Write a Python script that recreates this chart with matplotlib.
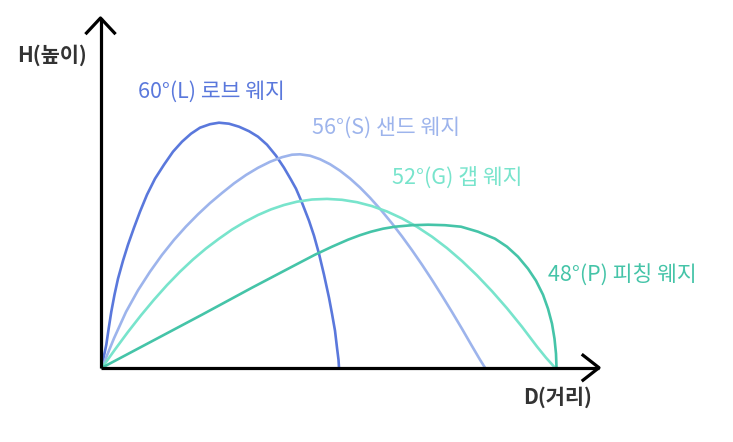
import matplotlib
matplotlib.use("Agg")
import matplotlib.pyplot as plt

plt.rcParams['font.family'] = ['Noto Sans CJK KR', 'DejaVu Sans']

# 궤적 데이터 (D: 거리, H: 높이) - 그림에서 읽은 값
d_60 = [0, 2, 4.3, 6.5, 9.3, 12.5, 16, 21, 26, 32, 38, 45, 53, 62, 71, 80, 89, 98, 108, 117,
        127, 137, 147, 156, 165, 174, 182, 189, 194, 200, 207, 212, 217, 222, 227, 230, 233, 235, 236.5, 237]
h_60 = [0, 12, 23, 38, 56, 73, 89, 107, 123, 140, 156, 173, 189, 203, 216, 226, 234, 240, 243.5, 245,
        244, 241, 236.5, 231, 223, 212, 200, 188, 179, 165, 147, 132, 114, 93, 70, 54, 37, 20, 8, 0]

d_56 = [0, 12, 24, 36, 48, 60, 72, 84, 96, 108, 120, 132, 144, 156, 168, 180, 190, 198,
        208, 218, 228, 238, 248, 258, 268, 279, 290, 300, 310, 320, 330, 340, 350, 360, 370, 378, 383]
h_56 = [0, 29.4, 55.8, 77.4, 96, 112.8, 127.8, 141.2, 153.4, 164.6, 174.7, 184.3, 192.7, 199.9, 205.9, 210.5, 213, 213.4,
        212, 208.5, 203.5, 197, 189.2, 180.2, 170, 157.7, 144.3, 131.3, 117.5, 103, 87.8, 72, 55.7, 38.9, 21.6, 8, 0]

d_52 = [0, 13, 26, 39, 52, 65, 78, 91, 104, 117, 130, 143, 156, 169, 182, 195, 210, 225,
        240, 255, 270, 285, 300, 315, 330, 345, 360, 375, 390, 405, 420, 435, 444, 453]
h_52 = [0, 18.2, 35.8, 52.4, 68, 82.6, 96, 108.2, 119.2, 129, 138.1, 145.9, 152.7, 158.3, 162.7, 166, 168.2, 168.8,
        167.9, 165.5, 161.6, 156.2, 149.3, 140.9, 131, 119.6, 106.7, 92.3, 76.5, 59.4, 40.9, 21.1, 10, 0]

d_48 = [0, 50, 100, 150, 190, 213, 230, 246, 258, 269, 281, 293, 310, 326, 343, 359, 376, 393,
        405, 416, 426, 434, 441, 446, 450, 452.5, 454, 454.5]
h_48 = [0, 26.5, 53, 80, 101, 113, 121, 128, 132.5, 136, 139, 141, 142.5, 143, 142.5, 141, 136, 129,
        121, 111, 99, 87, 73, 59, 44, 29, 14, 0]

labels = ['60°(L) 로브 웨지', '56°(S) 샌드 웨지', '52°(G) 갭 웨지', '48°(P) 피칭 웨지']
colors = ['#5a78dc', '#9db4ec', '#78e4cc', '#45c4a8']

fig = plt.figure(figsize=(7.33, 4.42), dpi=100)
ax = fig.add_axes([0, 0, 1, 1])
ax.set_xlim(-102, 631)
ax.set_ylim(-74.3, 367.7)
ax.axis('off')

# 궤적 그리기
for d, h, c in zip([d_60, d_56, d_52, d_48], [h_60, h_56, h_52, h_48], colors):
    ax.plot(d, h, color=c, lw=1.9, solid_capstyle='round', solid_joinstyle='round')

# 축 (화살표)
ax.plot([-1.5, 497], [0, 0], color='black', lw=2.3, solid_capstyle='butt')
ax.plot([-1.5, -1.5], [0, 349.7], color='black', lw=2.3, solid_capstyle='butt')
ax.plot([481, 497, 481], [12.5, 0, -12.5], color='black', lw=2.3)
ax.plot([-15.5, -1.5, 12.5], [334.7, 349.7, 334.7], color='black', lw=2.3)

# 라벨
ax.text(-85, 313, 'H(높이)', fontsize=15, color='#333333', fontweight='bold', ha='left', va='center')
ax.text(421, -29, 'D(거리)', fontsize=15, color='#333333', fontweight='bold', ha='left', va='center')

label_pos = [(36, 276), (210, 240), (290, 190), (446, 92)]
for (x, y), t, c in zip(label_pos, labels, colors):
    ax.text(x, y, t, fontsize=15.5, color=c, ha='left', va='center')

fig.savefig('out.png', dpi=100)
